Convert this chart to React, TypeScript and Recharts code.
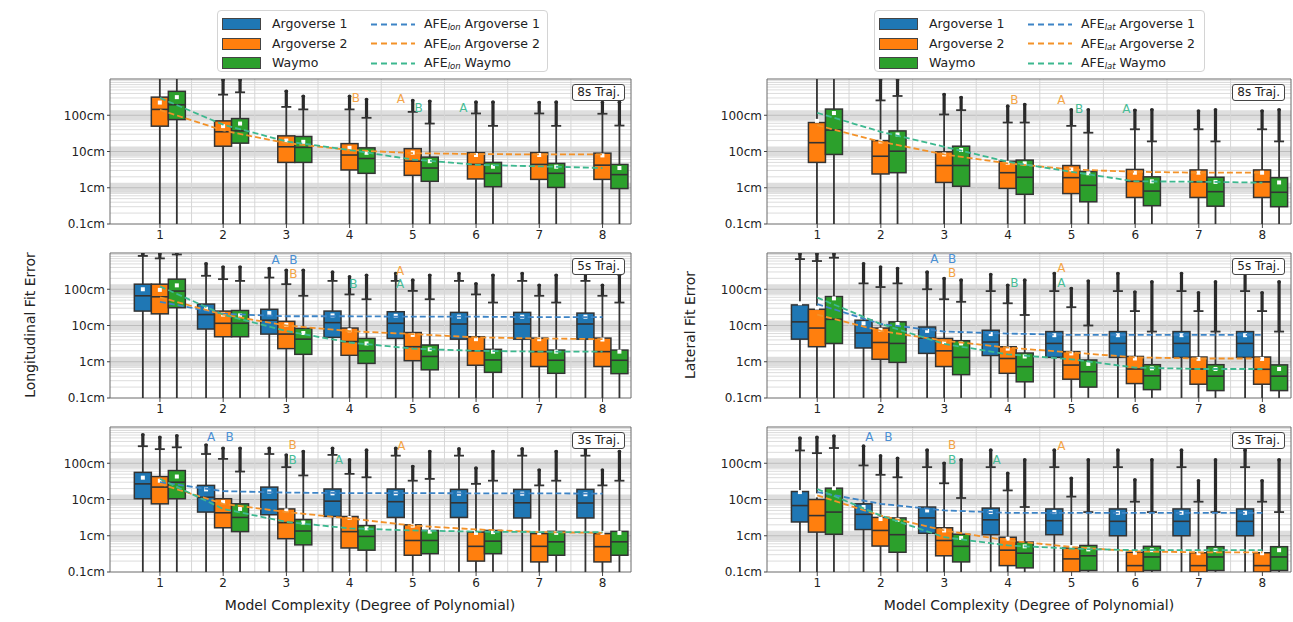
import { Fragment } from "react";
import {
  ComposedChart,
  Bar,
  Line,
  XAxis,
  YAxis,
  ReferenceLine,
  ReferenceArea,
  ReferenceDot,
} from "recharts";

const DEGREES = [1, 2, 3, 4, 5, 6, 7, 8];
const Y_TICKS = [0.1, 1, 10, 100];
const Y_RANGE = [0.1, 1000];
const X_RANGE = [0.21, 8.45];

// box stats per degree, in cm: [q1, median, q3, mean, upper whisker, max outlier]
const LON8_AV2 = [
  [50, 145, 316, 224, 1000, 1000],
  [14, 35, 70, 50, 370, 1000],
  [5, 13.5, 27, 20, 170, 490],
  [3.1, 8, 16.5, 12.6, 145, 355],
  [2.2, 5.4, 12, 9.3, 124, 270],
  [1.75, 4.4, 9.3, 8, 112, 245],
  [1.7, 4.4, 9.3, 8, 112, 240],
  [1.7, 4.2, 9, 7.8, 110, 240],
];
const LON8_WM = [
  [76, 195, 457, 316, 1000, 1000],
  [17, 37, 81, 59, 430, 1000],
  [5, 13, 26, 18.5, 145, 355],
  [2.5, 6.4, 12.6, 9.2, 85, 290],
  [1.5, 3.5, 7, 5.4, 59, 260],
  [1.07, 2.5, 5, 3.8, 51, 245],
  [1.02, 2.5, 4.7, 3.8, 51, 245],
  [0.95, 2.3, 4.4, 3.5, 52, 245],
];
const LON5_AV1 = [
  [25, 66, 138, 100, 830, 1000],
  [8, 20, 39, 29, 235, 540],
  [5.8, 14, 28, 22, 210, 400],
  [4.7, 12, 25, 19, 170, 316],
  [4.4, 11.5, 24, 18.5, 170, 290],
  [4.2, 11, 23, 17.5, 170, 290],
  [4.2, 11, 23, 17.5, 170, 290],
  [4.2, 11, 22, 17.5, 170, 290],
];
const LON5_AV2 = [
  [21, 62, 138, 96, 710, 1000],
  [4.9, 11.5, 25, 20, 190, 435],
  [2.3, 5.8, 13, 10.5, 138, 355],
  [1.5, 3.6, 8.5, 7.4, 72, 235],
  [1.07, 2.6, 6.4, 5.5, 90, 190],
  [0.8, 2, 4.9, 4.2, 72, 150],
  [0.74, 1.9, 4.5, 4.2, 66, 138],
  [0.74, 1.9, 4.5, 4.1, 66, 138],
];
const LON5_WM = [
  [31, 89, 190, 128, 910, 1000],
  [4.9, 11.5, 26, 19, 170, 435],
  [1.6, 4.2, 8.3, 6.2, 66, 355],
  [0.9, 2, 4.4, 3.2, 53, 260],
  [0.6, 1.4, 2.9, 2.2, 53, 260],
  [0.51, 1.12, 2.2, 1.9, 43, 260],
  [0.48, 1.1, 2.1, 1.9, 43, 260],
  [0.47, 1.1, 2.1, 1.9, 43, 260],
];
const LON3_AV1 = [
  [10.5, 27, 56, 40, 295, 650],
  [4.5, 11.5, 24.5, 19, 180, 340],
  [3.8, 9.8, 22, 16.6, 180, 275],
  [3.4, 9, 19.5, 14.8, 170, 275],
  [3.2, 8.7, 19.5, 14.8, 162, 275],
  [3.2, 8.1, 19, 14.5, 162, 265],
  [3.1, 8.1, 19, 14.5, 162, 265],
  [3.1, 8, 19, 14, 162, 265],
];
const LON3_AV2 = [
  [7.6, 22, 43, 33, 245, 550],
  [1.66, 4.3, 10.5, 8.5, 132, 275],
  [0.83, 2.3, 5.5, 5, 78, 180],
  [0.46, 1.3, 3.4, 3.1, 51, 132],
  [0.29, 0.74, 2, 1.9, 33, 87],
  [0.2, 0.51, 1.26, 1.2, 27, 78],
  [0.19, 0.51, 1.15, 1.2, 24.5, 69],
  [0.19, 0.5, 1.15, 1.2, 24.5, 69],
];
const LON3_WM = [
  [10.5, 30, 63, 43, 275, 610],
  [1.3, 3.2, 7.6, 5.5, 59, 275],
  [0.56, 1.35, 2.8, 2.3, 46, 225],
  [0.4, 0.96, 1.9, 1.6, 41, 245],
  [0.32, 0.74, 1.4, 1.3, 37, 225],
  [0.32, 0.71, 1.4, 1.26, 33, 225],
  [0.29, 0.68, 1.32, 1.2, 33, 225],
  [0.29, 0.68, 1.32, 1.2, 33, 225],
];
const LAT8_AV2 = [
  [5, 17.5, 63, 70, 1000, 1000],
  [2.4, 7.4, 20, 19, 257, 1000],
  [1.4, 4.1, 9.8, 8.3, 105, 400],
  [0.96, 2.6, 5.4, 4.9, 63, 190],
  [0.69, 1.9, 4.1, 3.2, 51, 150],
  [0.54, 1.5, 3.2, 2.6, 41, 147],
  [0.54, 1.45, 3.1, 2.6, 41, 140],
  [0.54, 1.45, 3.1, 2.6, 41, 140],
];
const LAT8_WM = [
  [8.3, 39, 148, 115, 1000, 1000],
  [2.6, 10.2, 37, 29.5, 340, 1000],
  [1.1, 4.1, 14, 11, 138, 330],
  [0.66, 1.95, 5.8, 4.7, 63, 210],
  [0.41, 1.17, 2.8, 2.5, 33, 150],
  [0.32, 0.81, 2, 1.5, 19, 150],
  [0.31, 0.78, 1.95, 1.45, 19, 150],
  [0.3, 0.75, 1.9, 1.4, 19, 150],
];
const LAT5_AV1 = [
  [4.2, 12.6, 37, 41, 680, 1000],
  [2.4, 6.2, 14, 11.5, 145, 540],
  [1.7, 4.5, 9.1, 7.1, 100, 316],
  [1.48, 3.5, 7.4, 5.8, 89, 270],
  [1.32, 3.2, 6.8, 5.4, 89, 290],
  [1.32, 3.2, 6.8, 5.4, 89, 290],
  [1.32, 3.2, 6.8, 5.4, 89, 290],
  [1.32, 3.2, 6.8, 5.4, 89, 290],
];
const LAT5_AV2 = [
  [2.6, 8.5, 28, 31, 600, 1000],
  [1.17, 3.4, 8.5, 7.6, 115, 435],
  [0.74, 2, 4.4, 3.5, 53, 210],
  [0.48, 1.23, 2.6, 2.3, 41, 138],
  [0.33, 0.81, 1.9, 1.7, 32, 112],
  [0.25, 0.63, 1.4, 1.23, 25, 89],
  [0.24, 0.63, 1.35, 1.2, 25, 85],
  [0.24, 0.62, 1.35, 1.2, 25, 85],
];
const LAT5_WM = [
  [3.2, 14.8, 63, 56, 740, 1000],
  [0.96, 3.2, 12.6, 11, 145, 400],
  [0.44, 1.32, 3.8, 3.2, 45, 190],
  [0.28, 0.73, 1.74, 1.4, 19.5, 190],
  [0.2, 0.53, 1.12, 0.87, 10, 180],
  [0.17, 0.41, 0.83, 0.66, 6.8, 170],
  [0.16, 0.4, 0.83, 0.63, 6.8, 170],
  [0.16, 0.4, 0.82, 0.63, 6.8, 170],
];
const LAT3_AV1 = [
  [2.4, 6.8, 16.6, 16, 225, 525],
  [1.48, 3.9, 7.6, 6.2, 87, 316],
  [1.17, 3.1, 6.2, 5, 78, 245],
  [1.07, 2.75, 5.8, 4.5, 78, 245],
  [1.07, 2.6, 5.5, 4.5, 78, 245],
  [1.0, 2.5, 5.5, 4.3, 78, 245],
  [1.0, 2.5, 5.5, 4.3, 78, 245],
  [1.0, 2.5, 5.5, 4.3, 78, 245],
];
const LAT3_AV2 = [
  [1.26, 3.6, 10, 13, 190, 550],
  [0.52, 1.4, 3.2, 2.9, 48, 170],
  [0.28, 0.74, 1.66, 1.4, 28, 107],
  [0.15, 0.4, 0.91, 0.83, 17.8, 56],
  [0.07, 0.23, 0.46, 0.49, 12, 41],
  [0.06, 0.15, 0.35, 0.34, 8.7, 37],
  [0.06, 0.15, 0.34, 0.33, 8.7, 35],
  [0.06, 0.15, 0.34, 0.33, 8.7, 35],
];
const LAT3_WM = [
  [1.1, 4.5, 20.5, 20.5, 263, 600],
  [0.35, 1.07, 3.1, 2.75, 41, 147],
  [0.19, 0.51, 1.1, 0.87, 11, 132],
  [0.13, 0.33, 0.67, 0.51, 6.2, 132],
  [0.11, 0.28, 0.54, 0.42, 4.5, 132],
  [0.11, 0.26, 0.51, 0.4, 4.5, 132],
  [0.11, 0.26, 0.5, 0.4, 4.5, 132],
  [0.11, 0.26, 0.5, 0.4, 4.5, 132],
];

// AFE (dashed lines), cm per degree
const AFE_LON8_AV2 = [140, 38, 17, 11, 9, 8.5, 8.3, 8.3];
const AFE_LON8_WM = [300, 55, 19, 11, 6, 4.3, 3.9, 3.5];
const AFE_LON5_AV1 = [45, 21, 18, 18, 17.5, 17.5, 17, 17];
const AFE_LON5_AV2 = [60, 20, 10, 7, 5.8, 4.7, 4.4, 4.2];
const AFE_LON5_WM = [120, 20, 7, 3.4, 2.3, 2, 1.9, 1.9];
const AFE_LON3_AV1 = [30, 17, 15.5, 15, 15, 14.8, 14.8, 14.5];
const AFE_LON3_AV2 = [27, 7.6, 4.5, 3, 1.9, 1.5, 1.26, 1.2];
const AFE_LON3_WM = [37, 5.5, 2.4, 1.6, 1.4, 1.3, 1.26, 1.26];
const AFE_LAT8_AV2 = [53, 18.6, 8.3, 4.7, 3.2, 2.75, 2.6, 2.6];
const AFE_LAT8_WM = [117, 35, 13.5, 5.2, 2.75, 1.5, 1.47, 1.38];
const AFE_LAT5_AV1 = [39, 11, 6.8, 6, 5.5, 5.5, 5.5, 5.5];
const AFE_LAT5_AV2 = [20, 7.1, 3.8, 2.45, 1.8, 1.32, 1.23, 1.23];
const AFE_LAT5_WM = [59, 11, 3.1, 1.6, 1.17, 0.69, 0.63, 0.63];
const AFE_LAT3_AV1 = [16, 7.6, 5, 4.3, 4.3, 4.3, 4.3, 4.3];
const AFE_LAT3_AV2 = [13, 3.6, 1.4, 0.74, 0.49, 0.37, 0.35, 0.35];
const AFE_LAT3_WM = [19.5, 3.6, 0.91, 0.54, 0.44, 0.4, 0.4, 0.4];

// "A"/"B" markers: [degree, cm, letter, series]
const NOTES_LON8 = [[4.1, 295, "B", "av2"], [4.81, 290, "A", "av2"], [5.09, 165, "B", "wm"], [5.8, 165, "A", "wm"]];
const NOTES_LON5 = [[2.83, 650, "A", "av1"], [3.11, 650, "B", "av1"], [3.11, 265, "B", "av2"], [4.06, 145, "B", "wm"], [4.8, 330, "A", "av2"], [4.8, 138, "A", "wm"]];
const NOTES_LON3 = [[1.81, 550, "A", "av1"], [2.1, 550, "B", "av1"], [3.1, 320, "B", "av2"], [3.1, 128, "B", "wm"], [3.83, 128, "A", "wm"], [4.82, 300, "A", "av2"]];
const NOTES_LAT8 = [[4.1, 275, "B", "av2"], [4.84, 275, "A", "av2"], [5.12, 150, "B", "wm"], [5.86, 150, "A", "wm"]];
const NOTES_LAT5 = [[2.84, 680, "A", "av1"], [3.12, 680, "B", "av1"], [3.12, 280, "B", "av2"], [4.1, 150, "B", "wm"], [4.84, 380, "A", "av2"], [4.84, 150, "A", "wm"]];
const NOTES_LAT3 = [[1.82, 550, "A", "av1"], [2.12, 550, "B", "av1"], [3.12, 320, "B", "av2"], [3.12, 128, "B", "wm"], [3.82, 128, "A", "wm"], [4.84, 300, "A", "av2"]];

const SERIES = [
  { key: "av1", name: "Argoverse 1" },
  { key: "av2", name: "Argoverse 2" },
  { key: "wm", name: "Waymo" },
];

const COLORS: Record<string, string> = { av1: "#1f77b4", av2: "#ff7f0e", wm: "#2ca02c" };
const AFE_COLORS: Record<string, string> = { av1: "#3d84c6", av2: "#f39229", wm: "#3db88f" };
const NOTE_COLORS: Record<string, string> = { av1: "#4a8fd3", av2: "#f3a447", wm: "#48bc96" };
const EDGE = "#333";
const FONT = '"DejaVu Sans", sans-serif';

const lg = Math.log10;
const Y_DOMAIN = [lg(Y_RANGE[0]), lg(Y_RANGE[1])];
const MAJOR = Y_TICKS.slice(1).map(lg);
const MINOR = Y_TICKS.flatMap((t) => [2, 3, 4, 5, 6, 7, 8, 9].map((k) => lg(t * k)));
const MID_X = DEGREES.slice(0, -1).map((d) => d + 0.5);

const fmtY = (v: number) => `${parseFloat((10 ** v).toPrecision(2))}cm`;

// draws whisker, outliers, box, median and mean from the bar's own [q1, q3] rectangle
function makeBox(key: string) {
  return (props: any) => {
    const { x, y, width, height, payload } = props;
    const s: number[] | null = payload?.[key];
    const r: number[] | null = payload?.[key + "Box"];
    if (!s || !r || !height || r[1] === r[0]) return <g />;
    const py = (L: number) => y + ((r[1] - L) / (r[1] - r[0])) * height;
    const bottom = py(Y_DOMAIN[0]);
    const top = py(Y_DOMAIN[1]);
    const clip = (p: number) => Math.min(bottom, Math.max(top, p));
    const cx = x + width / 2;
    const [q1, med, q3, mean, cap, mx] = s.map(lg);
    const yq1 = clip(py(q1));
    const yq3 = clip(py(q3));
    const yCap = clip(py(cap));
    return (
      <g>
        <line x1={cx} x2={cx} y1={bottom} y2={yCap} stroke={EDGE} strokeWidth={1.8} />
        {mx > cap && (
          <line x1={cx} x2={cx} y1={yCap} y2={clip(py(mx))} stroke="#2a2a2a" strokeWidth={3.2} />
        )}
        {mx > cap && <circle cx={cx} cy={clip(py(mx)) + 1} r={1.8} fill="#2a2a2a" />}
        {cap < Y_DOMAIN[1] - 0.01 && (
          <line x1={cx - 5} x2={cx + 5} y1={yCap} y2={yCap} stroke={EDGE} strokeWidth={1.8} />
        )}
        <rect x={x} y={yq3} width={width} height={yq1 - yq3} fill={COLORS[key]} stroke={EDGE} strokeWidth={1.5} />
        <line x1={x} x2={x + width} y1={py(med)} y2={py(med)} stroke={EDGE} strokeWidth={1.6} />
        <rect x={cx - 2} y={py(mean) - 2} width={4} height={4} fill="#fff" />
      </g>
    );
  };
}

interface PanelSpec {
  left: number;
  top: number;
  marginRight: number;
  tag: string;
  av1: number[][] | null;
  av2: number[][];
  wm: number[][];
  afeAv1: number[] | null;
  afeAv2: number[];
  afeWm: number[];
  notes: any[][];
}

function Panel(p: PanelSpec) {
  const rows = DEGREES.map((d, i) => ({
    x: d,
    av1: p.av1 ? p.av1[i] : null,
    av1Box: p.av1 ? [lg(p.av1[i][0]), lg(p.av1[i][2])] : null,
    av2: p.av2[i],
    av2Box: [lg(p.av2[i][0]), lg(p.av2[i][2])],
    wm: p.wm[i],
    wmBox: [lg(p.wm[i][0]), lg(p.wm[i][2])],
    afeAv1: p.afeAv1 ? lg(p.afeAv1[i]) : null,
    afeAv2: lg(p.afeAv2[i]),
    afeWm: lg(p.afeWm[i]),
  }));
  return (
    <div style={{ position: "absolute", left: p.left, top: p.top, width: 596, height: 175 }}>
      <ComposedChart
        width={596}
        height={175}
        data={rows}
        margin={{ top: 5, right: p.marginRight, bottom: 0, left: 0 }}
        barGap={0}
      >
        <XAxis
          type="number"
          dataKey="x"
          domain={X_RANGE}
          ticks={DEGREES}
          allowDataOverflow
          interval={0}
          axisLine={false}
          tickSize={4}
          tickLine={{ stroke: "#444" }}
          tick={{ fontSize: 12, fill: "#222" }}
          height={25}
        />
        <YAxis
          type="number"
          domain={Y_DOMAIN}
          ticks={Y_TICKS.map(lg)}
          allowDataOverflow
          width={70}
          axisLine={false}
          tickSize={3}
          tickLine={{ stroke: "#444" }}
          tick={{ fontSize: 12, fill: "#222" }}
          tickFormatter={fmtY}
        />
        {MAJOR.map((v) => (
          <ReferenceArea key={"b" + v} y1={v - 0.14} y2={v + 0.14} fill="#dedede" fillOpacity={1} stroke="none" zIndex={-60} />
        ))}
        {MINOR.map((v) => (
          <ReferenceLine key={"m" + v} y={v} stroke="#dcdcdc" strokeWidth={1} zIndex={-50} />
        ))}
        {MAJOR.map((v) => (
          <ReferenceLine key={"M" + v} y={v} stroke="#bdbdbd" strokeWidth={1} zIndex={-50} />
        ))}
        {MID_X.map((v) => (
          <ReferenceLine key={"x" + v} x={v} stroke="#d6d6d6" strokeWidth={1} zIndex={-50} />
        ))}
        <Bar dataKey="av1Box" barSize={17} fill={COLORS.av1} shape={makeBox("av1")} isAnimationActive={false} />
        <Bar dataKey="av2Box" barSize={17} fill={COLORS.av2} shape={makeBox("av2")} isAnimationActive={false} />
        <Bar dataKey="wmBox" barSize={17} fill={COLORS.wm} shape={makeBox("wm")} isAnimationActive={false} />
        {p.afeAv1 && (
          <Line type="linear" dataKey="afeAv1" stroke={AFE_COLORS.av1} strokeWidth={1.8} strokeDasharray="6 3" dot={false} activeDot={false} isAnimationActive={false} />
        )}
        <Line type="linear" dataKey="afeAv2" stroke={AFE_COLORS.av2} strokeWidth={1.8} strokeDasharray="6 3" dot={false} activeDot={false} isAnimationActive={false} />
        <Line type="linear" dataKey="afeWm" stroke={AFE_COLORS.wm} strokeWidth={1.8} strokeDasharray="6 3" dot={false} activeDot={false} isAnimationActive={false} />
        {p.notes.map((n, i) => (
          <ReferenceDot
            key={"n" + i}
            x={n[0]}
            y={lg(n[1])}
            r={0}
            fill="none"
            stroke="none"
            label={{ value: n[2], position: "center", fill: NOTE_COLORS[n[3]], fontSize: 12 }}
          />
        ))}
        <ReferenceArea x1={X_RANGE[0]} x2={X_RANGE[1]} y1={Y_DOMAIN[0]} y2={Y_DOMAIN[1]} fill="none" stroke="#6a6a6a" strokeWidth={1} />
      </ComposedChart>
      <div
        style={{
          position: "absolute",
          right: p.marginRight + 6,
          top: 10,
          border: "1px solid #444",
          borderRadius: 3,
          background: "#fff",
          fontSize: 12,
          lineHeight: "15px",
          padding: "0 4px",
          color: "#222",
        }}
      >
        {p.tag}
      </div>
    </div>
  );
}

function Legend({ left, sub }: { left: number; sub: string }) {
  return (
    <div
      style={{
        position: "absolute",
        left,
        top: 10,
        width: 331,
        height: 62,
        boxSizing: "border-box",
        border: "1px solid #d4d4d4",
        borderRadius: 4,
        background: "#fff",
        fontSize: 12.5,
        color: "#222",
      }}
    >
      {SERIES.map((s, i) => (
        <Fragment key={s.key}>
          <div
            style={{
              position: "absolute",
              left: 4,
              top: 7 + i * 19.5,
              width: 39,
              height: 12,
              boxSizing: "border-box",
              background: COLORS[s.key],
              border: "1px solid #444",
            }}
          />
          <div style={{ position: "absolute", left: 54, top: 4 + i * 19.5, lineHeight: "18px", whiteSpace: "nowrap" }}>
            {s.name}
          </div>
          <svg style={{ position: "absolute", left: 153, top: 11.5 + i * 19.5 }} width={44} height={3}>
            <line x1={0} x2={44} y1={1.5} y2={1.5} stroke={AFE_COLORS[s.key]} strokeWidth={2} strokeDasharray="6 4" />
          </svg>
          <div style={{ position: "absolute", left: 206, top: 4 + i * 19.5, lineHeight: "18px", whiteSpace: "nowrap" }}>
            AFE
            <span style={{ fontStyle: "italic", fontSize: 8.5, verticalAlign: "-2px", lineHeight: 0 }}>{sub}</span> {s.name}
          </div>
        </Fragment>
      ))}
    </div>
  );
}

const PANELS: PanelSpec[] = [
  { left: 40, top: 74, marginRight: 5, tag: "8s Traj.", av1: null, av2: LON8_AV2, wm: LON8_WM, afeAv1: null, afeAv2: AFE_LON8_AV2, afeWm: AFE_LON8_WM, notes: NOTES_LON8 },
  { left: 40, top: 248, marginRight: 5, tag: "5s Traj.", av1: LON5_AV1, av2: LON5_AV2, wm: LON5_WM, afeAv1: AFE_LON5_AV1, afeAv2: AFE_LON5_AV2, afeWm: AFE_LON5_WM, notes: NOTES_LON5 },
  { left: 40, top: 422, marginRight: 5, tag: "3s Traj.", av1: LON3_AV1, av2: LON3_AV2, wm: LON3_WM, afeAv1: AFE_LON3_AV1, afeAv2: AFE_LON3_AV2, afeWm: AFE_LON3_WM, notes: NOTES_LON3 },
  { left: 697, top: 74, marginRight: 2, tag: "8s Traj.", av1: null, av2: LAT8_AV2, wm: LAT8_WM, afeAv1: null, afeAv2: AFE_LAT8_AV2, afeWm: AFE_LAT8_WM, notes: NOTES_LAT8 },
  { left: 697, top: 248, marginRight: 2, tag: "5s Traj.", av1: LAT5_AV1, av2: LAT5_AV2, wm: LAT5_WM, afeAv1: AFE_LAT5_AV1, afeAv2: AFE_LAT5_AV2, afeWm: AFE_LAT5_WM, notes: NOTES_LAT5 },
  { left: 697, top: 422, marginRight: 2, tag: "3s Traj.", av1: LAT3_AV1, av2: LAT3_AV2, wm: LAT3_WM, afeAv1: AFE_LAT3_AV1, afeAv2: AFE_LAT3_AV2, afeWm: AFE_LAT3_WM, notes: NOTES_LAT3 },
];

const rotated = (left: number, text: string) => (
  <div
    style={{
      position: "absolute",
      left,
      top: 325,
      transform: "translate(-50%, -50%) rotate(-90deg)",
      whiteSpace: "nowrap",
      fontSize: 14,
      color: "#222",
    }}
  >
    {text}
  </div>
);

const xLabel = (center: number) => (
  <div
    style={{
      position: "absolute",
      left: center,
      top: 605,
      transform: "translate(-50%, -50%)",
      whiteSpace: "nowrap",
      fontSize: 14,
      color: "#222",
    }}
  >
    Model Complexity (Degree of Polynomial)
  </div>
);

export default function App() {
  return (
    <div
      style={{
        position: "absolute",
        left: 0,
        top: 0,
        width: 1293,
        height: 622,
        background: "#fff",
        fontFamily: FONT,
        overflow: "hidden",
      }}
    >
      <Legend left={217} sub="lon" />
      <Legend left={874} sub="lat" />
      {PANELS.map((p, i) => (
        <Panel key={i} {...p} />
      ))}
      {rotated(30, "Longitudinal Fit Error")}
      {rotated(690, "Lateral Fit Error")}
      {xLabel(370)}
      {xLabel(1029)}
    </div>
  );
}
